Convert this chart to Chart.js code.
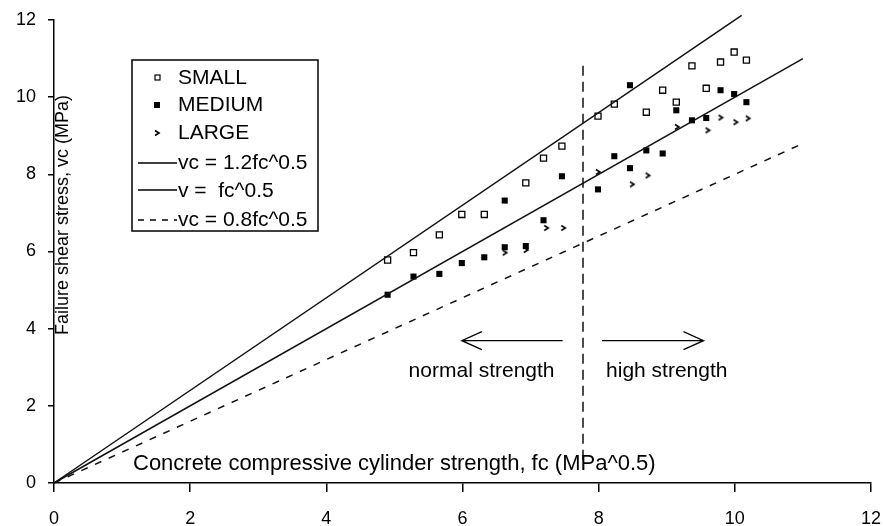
<!DOCTYPE html>
<html>
<head>
<meta charset="utf-8">
<script src="https://cdn.jsdelivr.net/npm/chart.js@4/dist/chart.umd.min.js"></script>
<style>
  html, body { margin: 0; padding: 0; background: #fff; }
</style>
</head>
<body>
<canvas id="chart" width="883" height="526"></canvas>
<script>
// --- datos (x = fc^0.5, y = vc) ---
const smallX = [4.90, 5.28, 5.66, 5.99, 6.32, 6.93, 7.19, 7.46, 7.99, 8.23, 8.70, 8.94, 9.14, 9.37, 9.58, 9.79, 9.99, 10.17];
const smallY = [5.78, 5.97, 6.43, 6.96, 6.96, 7.78, 8.42, 8.73, 9.51, 9.82, 9.61, 10.18, 9.87, 10.81, 10.23, 10.91, 11.17, 10.96];

const mediumX = [4.90, 5.28, 5.66, 5.99, 6.32, 6.62, 6.62, 6.93, 7.19, 7.46, 7.99, 8.23, 8.46, 8.46, 8.70, 8.94, 9.14, 9.37, 9.58, 9.79, 9.99, 10.17];
const mediumY = [4.88, 5.35, 5.42, 5.70, 5.85, 7.32, 6.11, 6.14, 6.81, 7.95, 7.61, 8.47, 8.16, 10.31, 8.62, 8.54, 9.66, 9.40, 9.46, 10.18, 10.08, 9.87];

const largeX = [6.62, 6.93, 7.23, 7.48, 7.99, 8.49, 8.72, 9.15, 9.60, 9.79, 10.01, 10.19];
const largeY = [5.97, 6.04, 6.61, 6.61, 8.06, 7.74, 7.97, 9.23, 9.14, 9.47, 9.35, 9.45];

// rectas de referencia (extremos)
const line12X = [0, 10.1];
const line12Y = [0, 12.12];
const line10X = [0, 11];
const line10Y = [0, 11];
const line08X = [0, 11];
const line08Y = [0, 8.8];

// separacion normal / alta resistencia
const dividerX = [7.77, 7.77];
const dividerY = [0.6, 10.95];

// flechas y rotulos
const arrowLeft = [7.47, 5.99];
const arrowRight = [8.05, 9.54];
const arrowY = 3.69;
const zoneLabels = ['normal strength', 'high strength'];
const zoneLabelX = [6.28, 9.0];
const zoneLabelY = 2.91;

const xTicks = [0, 2, 4, 6, 8, 10, 12];
const yTicks = [0, 2, 4, 6, 8, 10, 12];

const xTitle = 'Concrete compressive cylinder strength, fc (MPa^0.5)';
const yTitle = 'Failure shear stress, vc (MPa)';
const legendNames = ['SMALL', 'MEDIUM', 'LARGE', 'vc = 1.2fc^0.5', 'v =  fc^0.5', 'vc = 0.8fc^0.5'];

const FONT = '"Liberation Sans", Arial, sans-serif';

function pts(xs, ys) {
  return xs.map((x, i) => ({ x: x, y: ys[i] }));
}

// marcador ">" para LARGE
function chevron() {
  const c = document.createElement('canvas');
  c.width = 8; c.height = 8;
  const g = c.getContext('2d');
  g.strokeStyle = '#000';
  g.lineWidth = 1.6;
  g.beginPath();
  g.moveTo(2, 1.5); g.lineTo(6, 4); g.lineTo(2, 6.5);
  g.stroke();
  return c;
}
const chevronImg = chevron();

// --- plugin: titulos, flechas y leyenda dentro del area ---
const extras = {
  id: 'extras',
  afterDraw(chart) {
    const ctx = chart.ctx;
    const xs = chart.scales.x, ys = chart.scales.y;
    ctx.save();
    ctx.fillStyle = '#000';
    ctx.strokeStyle = '#000';

    // titulo eje x
    ctx.font = '22px ' + FONT;
    ctx.textAlign = 'left';
    ctx.textBaseline = 'middle';
    ctx.fillText(xTitle, 133, 464);

    // titulo eje y
    ctx.save();
    ctx.font = '18px ' + FONT;
    ctx.translate(63, 215);
    ctx.rotate(-Math.PI / 2);
    ctx.textAlign = 'center';
    ctx.fillText(yTitle, 0, 0);
    ctx.restore();

    // flechas
    ctx.lineWidth = 1.3;
    const ay = ys.getPixelForValue(arrowY);
    [arrowLeft, arrowRight].forEach(a => {
      const x0 = xs.getPixelForValue(a[0]);
      const x1 = xs.getPixelForValue(a[1]);
      const dir = x1 > x0 ? 1 : -1;
      ctx.beginPath();
      ctx.moveTo(x0, ay); ctx.lineTo(x1, ay);
      ctx.moveTo(x1 - dir * 20, ay - 9); ctx.lineTo(x1, ay); ctx.lineTo(x1 - dir * 20, ay + 9);
      ctx.stroke();
    });

    // rotulos zonas
    ctx.font = '21px ' + FONT;
    ctx.textAlign = 'center';
    zoneLabels.forEach((t, i) => {
      ctx.fillText(t, xs.getPixelForValue(zoneLabelX[i]), ys.getPixelForValue(zoneLabelY));
    });

    // leyenda
    ctx.lineWidth = 1.5;
    ctx.strokeRect(132, 60, 186, 171);
    ctx.font = '21px ' + FONT;
    ctx.textAlign = 'left';
    const rowY = [78, 105, 133, 163, 191, 220];
    legendNames.forEach((t, i) => ctx.fillText(t, 178, rowY[i]));
    // marcadores
    ctx.lineWidth = 1.2;
    ctx.fillStyle = '#fff';
    ctx.fillRect(155, 75, 5, 5); ctx.strokeRect(155, 75, 5, 5);
    ctx.fillStyle = '#000';
    ctx.fillRect(154, 102, 6, 6);
    ctx.drawImage(chevronImg, 153, 129);
    ctx.lineWidth = 1.5;
    ctx.beginPath();
    ctx.moveTo(138, 163); ctx.lineTo(177, 163);
    ctx.moveTo(138, 190); ctx.lineTo(177, 190);
    ctx.stroke();
    ctx.setLineDash([6, 6]);
    ctx.beginPath();
    ctx.moveTo(138, 220); ctx.lineTo(177, 220);
    ctx.stroke();
    ctx.restore();
  }
};

const lineStyle = { showLine: true, pointRadius: 0, borderColor: '#111', borderWidth: 1.5, fill: false, clip: false };

new Chart(document.getElementById('chart'), {
  type: 'scatter',
  data: {
    datasets: [
      Object.assign({ data: pts(line12X, line12Y) }, lineStyle),
      Object.assign({ data: pts(line10X, line10Y) }, lineStyle),
      Object.assign({ data: pts(line08X, line08Y), borderDash: [7, 8] }, lineStyle),
      Object.assign({ data: pts(dividerX, dividerY), borderDash: [10, 6] }, lineStyle),
      { label: 'SMALL', data: pts(smallX, smallY), pointStyle: 'rect', pointRadius: 4.3,
        backgroundColor: '#fff', borderColor: '#000', borderWidth: 1.3 },
      { label: 'MEDIUM', data: pts(mediumX, mediumY), pointStyle: 'rect', pointRadius: 4.3,
        backgroundColor: '#000', borderColor: '#000', borderWidth: 0 },
      { label: 'LARGE', data: pts(largeX, largeY), pointStyle: chevronImg, pointRadius: 4 }
    ]
  },
  options: {
    responsive: false,
    animation: false,
    devicePixelRatio: 1,
    layout: { padding: { top: 20, right: 12, left: 0, bottom: 0 } },
    plugins: { legend: { display: false }, tooltip: { enabled: false } },
    scales: {
      x: {
        type: 'linear', min: 0, max: 12,
        afterBuildTicks: s => { s.ticks = xTicks.map(v => ({ value: v })); },
        afterFit: s => { s.height = 43; s.paddingLeft = 0; s.paddingRight = 0; },
        grid: { drawOnChartArea: false, drawTicks: true, tickLength: 9, color: '#000', lineWidth: 1.5 },
        border: { color: '#000', width: 1.5 },
        ticks: { color: '#000', padding: 16, maxRotation: 0, font: { family: FONT, size: 18 } }
      },
      y: {
        type: 'linear', min: 0, max: 12,
        afterBuildTicks: s => { s.ticks = yTicks.map(v => ({ value: v })); },
        afterFit: s => { s.width = 54; s.paddingTop = 0; s.paddingBottom = 0; },
        grid: { drawOnChartArea: false, drawTicks: true, tickLength: 6, color: '#000', lineWidth: 1.5 },
        border: { color: '#000', width: 1.5 },
        ticks: { color: '#000', padding: 12, font: { family: FONT, size: 18 } }
      }
    }
  },
  plugins: [extras]
});
</script>
</body>
</html>
